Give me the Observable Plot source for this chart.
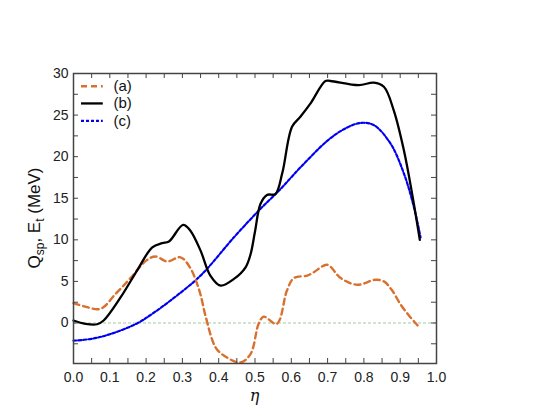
<!DOCTYPE html>
<html><head><meta charset="utf-8">
<script src="https://cdn.jsdelivr.net/npm/d3@7"></script>
<script src="https://cdn.jsdelivr.net/npm/@observablehq/plot@0.6"></script>
<style>body{margin:0;background:#fff} svg{display:block}</style>
</head><body><div id="chart"></div>
<script>
// Curve (a): orange dashed
const etaA = [0, 0.03, 0.074, 0.116, 0.157, 0.2, 0.226, 0.258, 0.295, 0.322, 0.338, 0.35, 0.364, 0.391, 0.414, 0.46, 0.488, 0.51, 0.524, 0.56, 0.588, 0.607, 0.644, 0.662, 0.699, 0.736, 0.782, 0.832, 0.855, 0.878, 0.9, 0.924, 0.944, 0.954];
const valA = [2.4, 2.0, 1.7, 3.5, 5.4, 7.5, 8.0, 7.4, 7.9, 6.6, 5.0, 3.4, 0.8, -2.9, -3.9, -4.75, -3.7, -0.1, 0.76, -0.1, 3.9, 5.4, 5.7, 6.1, 7.0, 5.4, 4.6, 5.2, 5.0, 3.9, 2.3, 0.9, -0.1, -0.6];
// Curve (b): black solid
const etaB = [0, 0.033, 0.065, 0.083, 0.13, 0.175, 0.217, 0.244, 0.263, 0.302, 0.322, 0.35, 0.377, 0.405, 0.442, 0.474, 0.488, 0.5, 0.515, 0.533, 0.556, 0.575, 0.602, 0.625, 0.653, 0.694, 0.708, 0.786, 0.827, 0.855, 0.882, 0.91, 0.933, 0.954];
const valB = [0.3, -0.1, -0.15, 0.3, 3.1, 6.3, 9.1, 9.6, 9.8, 11.8, 11.1, 8.7, 5.7, 4.5, 5.3, 6.7, 8.3, 11.0, 14.3, 15.4, 15.5, 18.0, 23.6, 24.8, 26.4, 29.1, 29.1, 28.6, 28.9, 28.4, 25.6, 20.8, 15.5, 10.0];
// Curve (c): blue dotted
const etaC = [0, 0.05, 0.102, 0.175, 0.22, 0.267, 0.35, 0.442, 0.51, 0.57, 0.625, 0.699, 0.745, 0.79, 0.827, 0.873, 0.91, 0.938, 0.956];
const valC = [-2.13, -1.9, -1.33, -0.05, 1.2, 2.7, 5.7, 10.3, 13.5, 16.1, 18.7, 21.9, 23.3, 24.05, 23.8, 21.6, 18.0, 13.9, 10.3];

const xTicks = [0, 0.1, 0.2, 0.3, 0.4, 0.5, 0.6, 0.7, 0.8, 0.9, 1.0];
const xMinor = [0.05, 0.15, 0.25, 0.35, 0.45, 0.55, 0.65, 0.75, 0.85, 0.95];
const yTicks = [0, 5, 10, 15, 20, 25, 30];
const yMinor = [-2.5, 2.5, 7.5, 12.5, 17.5, 22.5, 27.5];
const xDomain = [0, 1];
const yDomain = [-4.87, 30];

const legendLabels = ["(a)", "(b)", "(c)"];
const legendY = [28.47, 26.4, 24.3];
const legendX = [0.022, 0.082, 0.11];

const W = 545, H = 412, mL = 73, mR = 109, mT = 73, mB = 49;
const pw = W - mL - mR, ph = H - mT - mB;
const frameColor = "#444";
const orange = "#d9702e";
const font = "'Liberation Sans', Arial, Helvetica, sans-serif";

const allTicksX = xTicks.concat(xMinor);
const allTicksY = yTicks.concat(yMinor);
const tl = 5;

const A = etaA.map((e, i) => ({x: e, y: valA[i]}));
const B = etaB.map((e, i) => ({x: e, y: valB[i]}));
const C = etaC.map((e, i) => ({x: e, y: valC[i]}));

const legendStyles = [
  {stroke: orange, strokeWidth: 2.4, strokeDasharray: "6,4"},
  {stroke: "#000", strokeWidth: 2.3},
  {stroke: "#0000f0", strokeWidth: 2.2, strokeDasharray: "3,2"}
];

const chart = Plot.plot({
  width: W, height: H,
  marginLeft: mL, marginRight: mR, marginTop: mT, marginBottom: mB,
  style: {fontFamily: font, fontSize: "14px", color: "#222", background: "white"},
  x: {domain: xDomain},
  y: {domain: yDomain},
  marks: [
    Plot.axisX({ticks: xTicks, tickSize: 0, tickPadding: 9, tickFormat: d => d.toFixed(1), label: null, fontSize: 14}),
    Plot.axisY({ticks: yTicks, tickSize: 0, tickPadding: 5, label: null, fontSize: 14}),
    Plot.ruleY([0], {stroke: "#9ccc9c", strokeDasharray: "3,2", strokeWidth: 1}),
    Plot.line(C, {x: "x", y: "y", curve: "catmull-rom", ...legendStyles[2]}),
    Plot.line(A, {x: "x", y: "y", curve: "catmull-rom", ...legendStyles[0]}),
    Plot.line(B, {x: "x", y: "y", curve: "catmull-rom", ...legendStyles[1]}),
    // inward ticks on all four sides
    Plot.tickX(allTicksX, {x: d => d, insetTop: ph - tl, stroke: frameColor, strokeWidth: 1}),
    Plot.tickX(allTicksX, {x: d => d, insetBottom: ph - tl, stroke: frameColor, strokeWidth: 1}),
    Plot.tickY(allTicksY, {y: d => d, insetRight: pw - tl, stroke: frameColor, strokeWidth: 1}),
    Plot.tickY(allTicksY, {y: d => d, insetLeft: pw - tl, stroke: frameColor, strokeWidth: 1}),
    Plot.frame({stroke: frameColor, strokeWidth: 1.5}),
    // legend
    ...legendLabels.map((lab, i) => Plot.ruleY([legendY[i]], {x1: legendX[0], x2: legendX[1], ...legendStyles[i]})),
    Plot.text(legendLabels, {x: legendX[2], y: (d, i) => legendY[i], text: d => d, textAnchor: "start", fontSize: 15, fill: "#111"})
  ]
});
document.getElementById("chart").appendChild(chart);

const svg = d3.select(chart);
const yl = svg.append("text")
  .attr("transform", `translate(40,${mT + ph / 2}) rotate(-90)`)
  .attr("text-anchor", "middle")
  .style("font-family", font).style("font-size", "17px").attr("fill", "#111");
yl.append("tspan").text("Q");
yl.append("tspan").attr("font-size", "12px").attr("dy", 4).text("sp");
yl.append("tspan").attr("dy", -4).text(", E");
yl.append("tspan").attr("font-size", "12px").attr("dy", 4).text("t");
yl.append("tspan").attr("dy", -4).text(" (MeV)");

svg.append("text")
  .attr("x", mL + pw / 2).attr("y", 401)
  .attr("text-anchor", "middle")
  .style("font-family", "'DejaVu Serif', 'Liberation Serif', serif").style("font-style", "italic").style("font-size", "16px")
  .attr("fill", "#111").text("η");
</script></body></html>
